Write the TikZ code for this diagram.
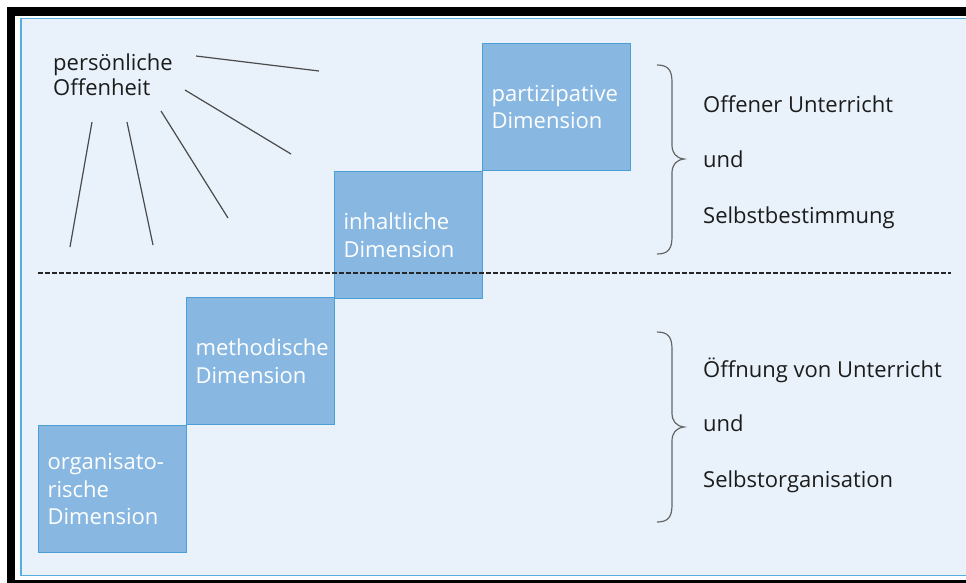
\documentclass[tikz,border=0pt]{standalone}
\usepackage{fontspec}
\setmainfont{Open Sans}
\definecolor{bgblue}{HTML}{E9F2FB}
\definecolor{frameblue}{HTML}{55ADE0}
\definecolor{boxfill}{HTML}{88B8E1}
\definecolor{boxline}{HTML}{4A9FD6}
\definecolor{raygray}{HTML}{4A4A4A}
\definecolor{txtdark}{HTML}{1C1C1C}
\begin{document}
\begin{tikzpicture}[x=1pt,y=-1pt,
  dimbox/.style={draw=boxline, fill=boxfill, line width=1.2pt, anchor=north west,
    text width=130pt, inner xsep=9pt, inner ysep=0pt, minimum height=127pt,
    align=left, text=white, font=\fontsize{22}{27.5}\selectfont},
  sidetext/.style={anchor=base west, text=txtdark, inner sep=0pt, font=\fontsize{22}{24}\selectfont},
  ray/.style={draw=raygray, line width=1.2pt},
  bracestyle/.style={draw=raygray!85, line width=1.2pt},
  divider/.style={draw=black!85, line width=1.2pt, dash pattern=on 4.5pt off 2.5pt}]
\useasboundingbox (0,0) rectangle (966,582);
\begin{scope}
\clip (0,0) rectangle (966,582);
\fill[white] (0,0) rectangle (966,582);
\fill[black] (7,7) rectangle (990,583);
\fill[white] (15,16) rectangle (990,579.5);
\draw[frameblue, fill=bgblue, line width=1.3pt] (21,18.5) rectangle (995,575.5);
\end{scope}

% boxes
\node[dimbox] (org) at (38,425) {organisato-\\rische\\Dimension};
\node[dimbox] (meth) at (186,297) {methodische\\Dimension};
\node[dimbox] (inh) at (334,171) {inhaltliche\\Dimension};
\node[dimbox] (part) at (482,43) {partizipative\\Dimension};

% dashed divider
\coordinate (dl) at (38,273);
\coordinate (dr) at (951,273);
\draw[divider] (dl) -- (dr);

% personal openness
\node[anchor=base west, text=txtdark, inner sep=0pt, align=left,
  font=\fontsize{22}{25}\selectfont] (pers) at (53,95) {persönliche\\Offenheit};

\coordinate (r1s) at (196,56);  \coordinate (r1e) at (319,71);
\coordinate (r2s) at (185,90);  \coordinate (r2e) at (291,154);
\coordinate (r3s) at (161,111); \coordinate (r3e) at (228,218);
\coordinate (r4s) at (127,122); \coordinate (r4e) at (153,245);
\coordinate (r5s) at (92,122);  \coordinate (r5e) at (70,247);
\draw[ray] (r1s) -- (r1e);
\draw[ray] (r2s) -- (r2e);
\draw[ray] (r3s) -- (r3e);
\draw[ray] (r4s) -- (r4e);
\draw[ray] (r5s) -- (r5e);

% braces
\coordinate (b1t) at (657,65);
\coordinate (b1tip) at (684,159);
\coordinate (b1b) at (657,254);
\draw[bracestyle] (b1t) .. controls (668,65) and (672,70) .. (672,82) -- (672,145)
  .. controls (672,153) and (676,158) .. (b1tip)
  .. controls (676,160) and (672,165) .. (672,173) -- (672,237)
  .. controls (672,249) and (668,254) .. (b1b);

\coordinate (b2t) at (657,332);
\coordinate (b2tip) at (684,427);
\coordinate (b2b) at (657,522);
\draw[bracestyle] (b2t) .. controls (668,332) and (672,337) .. (672,349) -- (672,413)
  .. controls (672,421) and (676,426) .. (b2tip)
  .. controls (676,428) and (672,433) .. (672,441) -- (672,505)
  .. controls (672,517) and (668,522) .. (b2b);

% right texts
\node[sidetext] (t1) at (703,112) {Offener Unterricht};
\node[sidetext] (t2) at (703,167) {und};
\node[sidetext] (t3) at (703,223) {Selbstbestimmung};
\node[sidetext] (t4) at (703,377) {Öffnung von Unterricht};
\node[sidetext] (t5) at (703,431) {und};
\node[sidetext] (t6) at (703,487) {Selbstorganisation};
\end{tikzpicture}
\end{document}
